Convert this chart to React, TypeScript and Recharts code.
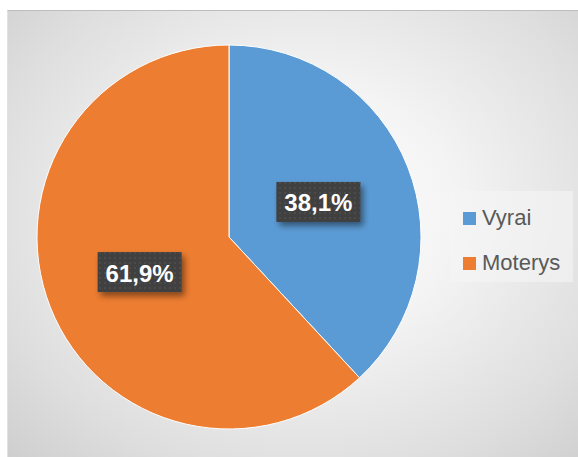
import React from 'react';
import { PieChart, Pie, Cell, Legend } from 'recharts';

const categories = ['Vyrai', 'Moterys'];
const shares = [38.1, 61.9];
const percentLabels = ['38,1%', '61,9%'];
const colors = ['#5B9BD5', '#ED7D31'];

const pieData = categories.map((name, i) => ({ name, value: shares[i], label: percentLabels[i] }));

const RADIAN = Math.PI / 180;

const renderLabel = (props: any) => {
  const { cx, cy, midAngle, outerRadius, index } = props;
  const r = outerRadius * 0.5;
  const x = cx + r * Math.cos(-midAngle * RADIAN);
  const y = cy + r * Math.sin(-midAngle * RADIAN);
  const w = 84;
  const h = 40;
  return (
    <g>
      <rect
        x={x - w / 2}
        y={y - h / 2}
        width={w}
        height={h}
        fill="#404040"
        filter="url(#labelShadow)"
      />
      <rect x={x - w / 2} y={y - h / 2} width={w} height={h} fill="url(#dots)" />
      <text
        x={x}
        y={y + 1}
        textAnchor="middle"
        dominantBaseline="central"
        fill="#ffffff"
        fontFamily="'Liberation Sans', Arial, sans-serif"
        fontWeight="bold"
        fontSize={24}
      >
        {percentLabels[index]}
      </text>
    </g>
  );
};

const renderLegend = () => (
  <div
    style={{
      width: 123,
      height: 91,
      background: 'rgba(245,245,245,0.6)',
      paddingTop: 16,
      boxSizing: 'border-box',
      fontFamily: "'Liberation Sans', Arial, sans-serif",
      fontSize: 22,
      color: '#595959',
    }}
  >
    {categories.map((c, i) => (
      <div
        key={c}
        style={{ display: 'flex', alignItems: 'center', height: 22, marginBottom: 23, paddingLeft: 13 }}
      >
        <span style={{ width: 13, height: 13, background: colors[i], marginRight: 6, display: 'inline-block' }} />
        <span>{c}</span>
      </div>
    ))}
  </div>
);

export default function App() {
  return (
    <div style={{ position: 'relative', width: 578, height: 457, background: '#ffffff', overflow: 'hidden' }}>
      <style>{`body{margin:0}`}</style>
      <div
        style={{
          position: 'absolute',
          left: 7,
          top: 10,
          width: 571,
          height: 447,
          borderTop: '1px solid #bdbdbd',
          borderLeft: '1px solid #e2e2e2',
          boxSizing: 'border-box',
          background:
            'radial-gradient(ellipse 75% 80% at 52% 45%, #ffffff 0%, #f4f4f4 35%, #dedede 75%, #cdcdcd 100%)',
        }}
      >
        <PieChart width={570} height={446} margin={{ top: 0, right: 0, bottom: 0, left: 0 }}>
          <defs>
            <filter id="labelShadow" x="-20%" y="-30%" width="150%" height="180%">
              <feDropShadow dx={3} dy={4} stdDeviation={3} floodColor="#000000" floodOpacity={0.45} />
            </filter>
            <pattern id="dots" width={5} height={5} patternUnits="userSpaceOnUse">
              <rect x={1} y={1} width={2} height={2} fill="#4b4b4b" />
            </pattern>
          </defs>
          <Pie
            data={pieData}
            dataKey="value"
            nameKey="name"
            cx={221}
            cy={226}
            outerRadius={192}
            startAngle={90}
            endAngle={-270}
            stroke="#ffffff"
            strokeWidth={1}
            labelLine={false}
            label={renderLabel}
            isAnimationActive={false}
          >
            {pieData.map((d, i) => (
              <Cell key={d.name} fill={colors[i]} />
            ))}
          </Pie>
          <Legend
            content={renderLegend}
            wrapperStyle={{ position: 'absolute', left: 442, top: 180, width: 123, height: 91 }}
          />
        </PieChart>
      </div>
    </div>
  );
}
